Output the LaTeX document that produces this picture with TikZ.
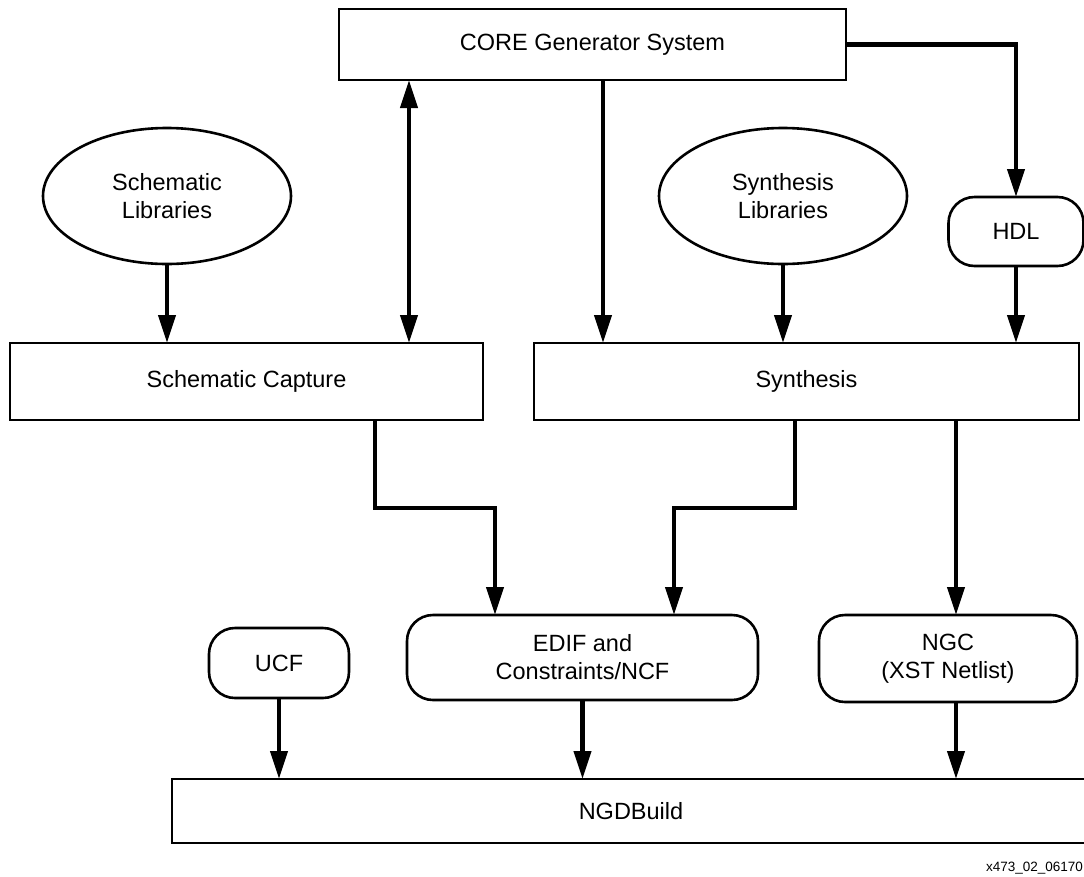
\documentclass[tikz,border=0pt]{standalone}
\usepackage{fontspec}
\setmainfont{Liberation Sans}
\usetikzlibrary{arrows.meta,shapes.geometric}
\begin{document}
\begin{tikzpicture}[x=1pt,y=-1pt,
  every node/.style={inner sep=0pt,outer sep=0pt,align=center,
    font=\fontsize{23.5}{28}\selectfont},
  sqbox/.style={draw,line width=2.6pt,rectangle},
  rndbox/.style={draw,line width=2.6pt,rectangle,rounded corners=26pt},
  libell/.style={draw,line width=2.6pt,ellipse,minimum width=248pt,minimum height=136pt},
  flow/.style={line width=4.2pt,-{Triangle[length=28pt,width=17pt]}},
  flowboth/.style={line width=4.2pt,{Triangle[length=28pt,width=17pt]}-{Triangle[length=28pt,width=17pt]}}]
\useasboundingbox[fill=white] (0,0) rectangle (1084,876);

% nodes
\node[sqbox,minimum width=507pt,minimum height=71pt] (core) at (592.5,44.5) {CORE Generator System};
\node[libell] (schlib) at (167,196) {Schematic\\Libraries};
\node[libell] (synlib) at (783,196) {Synthesis\\Libraries};
\node[rndbox,minimum width=135pt,minimum height=69pt] (hdl) at (1016,231.5) {HDL};
\node[sqbox,minimum width=473pt,minimum height=77pt] (schcap) at (246.5,381.5) {Schematic Capture};
\node[sqbox,minimum width=545pt,minimum height=77pt] (synth) at (806.5,381.5) {Synthesis};
\node[rndbox,minimum width=140pt,minimum height=70pt] (ucf) at (279,663) {UCF};
\node[rndbox,minimum width=351pt,minimum height=85pt] (edif) at (582.5,657.5) {EDIF and\\Constraints/NCF};
\node[rndbox,minimum width=258pt,minimum height=87pt] (ngc) at (948,658.5) {NGC\\(XST Netlist)};
\node[sqbox,minimum width=918pt,minimum height=64pt] (ngd) at (631,811) {NGDBuild};
\node[anchor=base east,font=\fontsize{13.5}{16}\selectfont] (tag) at (1083,871) {x473\_02\_06170};

% helper coordinates
\coordinate (xd) at (409,0);
\coordinate (xc) at (603,0);
\coordinate (xn) at (956,0);
\coordinate (ja) at (375,508);
\coordinate (jb) at (495,508);
\coordinate (jc) at (795,508);
\coordinate (jd) at (674,508);

% connectors
\draw[flow] (core.east) -| (hdl.north);
\draw[flowboth] (core.south -| xd) -- (schcap.north -| xd);
\draw[flow] (core.south -| xc) -- (synth.north -| xc);
\draw[flow] (schlib.south) -- (schlib.south |- schcap.north);
\draw[flow] (synlib.south) -- (synlib.south |- synth.north);
\draw[flow] (hdl.south) -- (hdl.south |- synth.north);
\draw[flow] (schcap.south -| ja) -- (ja) -- (jb) -- (edif.north -| jb);
\draw[flow] (synth.south -| jc) -- (jc) -- (jd) -- (edif.north -| jd);
\draw[flow] (synth.south -| xn) -- (ngc.north -| xn);
\draw[flow] (ucf.south) -- (ucf.south |- ngd.north);
\draw[flow] (edif.south) -- (edif.south |- ngd.north);
\draw[flow] (ngc.south -| xn) -- (ngd.north -| xn);
\end{tikzpicture}
\end{document}
